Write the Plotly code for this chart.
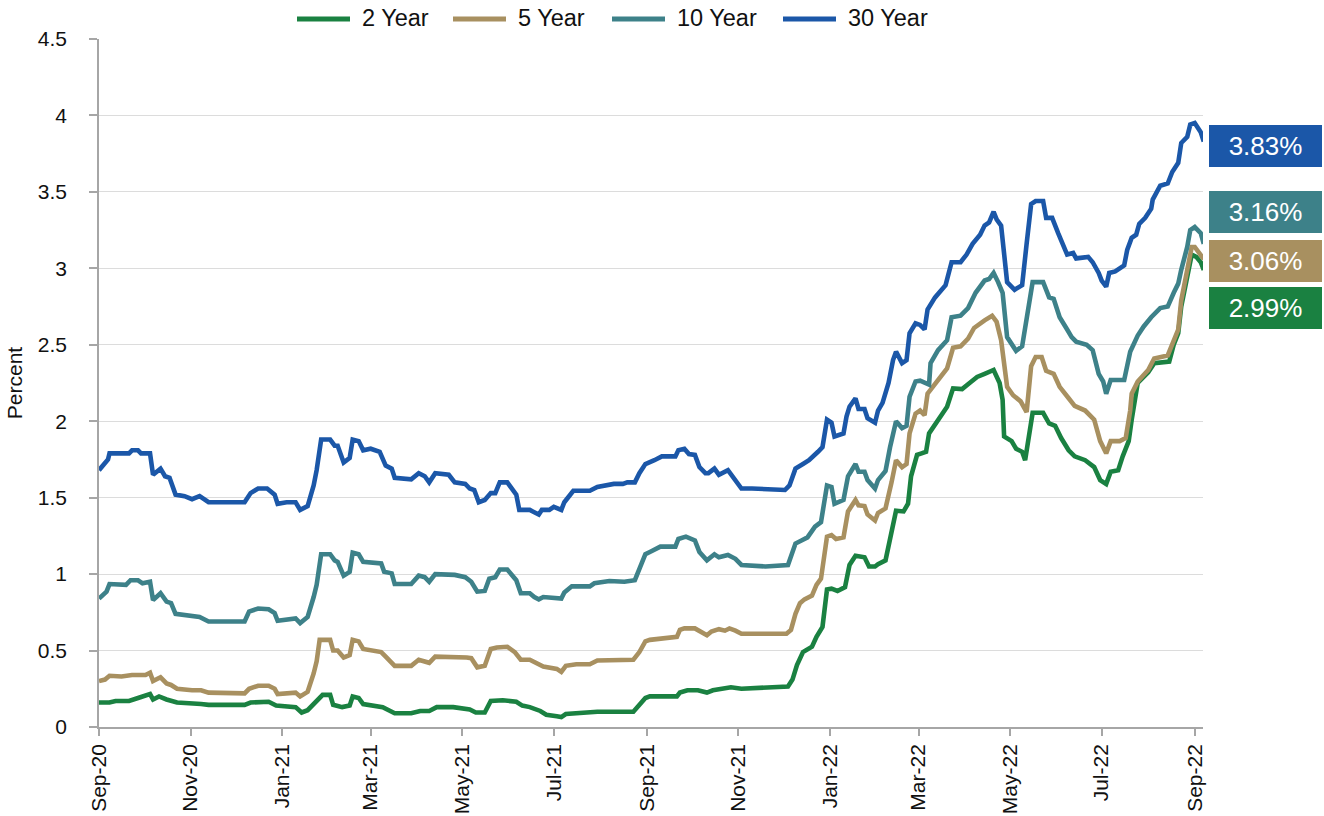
import pandas as pd
import plotly.graph_objects as go

START = "2020-09-01"
END = "2022-09-06 12:00"

# ---- data: day offsets from START and yields (%) ----
days_30y = [0, 6, 7, 20, 22, 26, 28, 34, 36, 41, 44, 47, 51, 57, 62, 67, 73, 97, 101, 106, 112, 117, 119, 125, 131, 134, 139, 143, 145, 148, 154, 157, 159, 163, 167, 169, 173, 176, 181, 187, 191, 195, 197, 208, 213, 217, 220, 224, 233, 237, 244, 247, 250, 253, 257, 261, 264, 267, 272, 275, 278, 280, 287, 289, 293, 295, 300, 303, 308, 310, 316, 327, 332, 343, 349, 352, 357, 360, 364, 370, 375, 384, 386, 390, 393, 397, 400, 404, 406, 410, 413, 419, 424, 428, 435, 457, 460, 464, 469, 473, 479, 482, 485, 488, 490, 496, 498, 500, 504, 506, 510, 512, 517, 519, 522, 526, 529, 531, 535, 538, 540, 544, 547, 550, 552, 557, 564, 568, 574, 578, 582, 587, 590, 593, 596, 598, 601, 605, 610, 615, 618, 621, 624, 629, 631, 635, 639, 643, 645, 649, 651, 659, 662, 666, 668, 671, 673, 677, 680, 683, 685, 688, 691, 693, 697, 701, 702, 707, 712, 715, 719, 721, 725, 727, 730, 734, 736]
yld_30y = [1.68, 1.75, 1.79, 1.79, 1.81, 1.81, 1.79, 1.79, 1.65, 1.69, 1.64, 1.63, 1.52, 1.51, 1.49, 1.51, 1.47, 1.47, 1.53, 1.56, 1.56, 1.52, 1.46, 1.47, 1.47, 1.42, 1.445, 1.58, 1.68, 1.88, 1.88, 1.84, 1.84, 1.73, 1.76, 1.88, 1.87, 1.81, 1.82, 1.80, 1.71, 1.69, 1.63, 1.62, 1.66, 1.64, 1.60, 1.66, 1.65, 1.60, 1.59, 1.56, 1.55, 1.47, 1.485, 1.53, 1.53, 1.60, 1.60, 1.56, 1.52, 1.42, 1.42, 1.41, 1.39, 1.42, 1.42, 1.44, 1.42, 1.47, 1.545, 1.545, 1.57, 1.59, 1.59, 1.60, 1.60, 1.66, 1.72, 1.745, 1.77, 1.77, 1.81, 1.82, 1.785, 1.78, 1.70, 1.66, 1.66, 1.69, 1.65, 1.68, 1.615, 1.56, 1.56, 1.55, 1.58, 1.69, 1.72, 1.745, 1.80, 1.83, 2.01, 1.99, 1.90, 1.92, 2.03, 2.095, 2.15, 2.08, 2.08, 2.02, 1.99, 2.07, 2.12, 2.25, 2.40, 2.455, 2.38, 2.40, 2.575, 2.64, 2.63, 2.60, 2.73, 2.81, 2.89, 3.04, 3.04, 3.09, 3.16, 3.22, 3.28, 3.30, 3.37, 3.32, 3.28, 2.91, 2.86, 2.89, 3.16, 3.42, 3.44, 3.44, 3.33, 3.33, 3.23, 3.14, 3.09, 3.10, 3.065, 3.075, 3.04, 2.97, 2.92, 2.88, 2.97, 2.98, 3.00, 3.02, 3.12, 3.20, 3.22, 3.29, 3.33, 3.39, 3.45, 3.54, 3.555, 3.63, 3.69, 3.82, 3.86, 3.94, 3.95, 3.89, 3.83]

days_10y = [0, 5, 7, 15, 18, 21, 26, 29, 34, 36, 41, 45, 48, 51, 57, 64, 67, 73, 97, 100, 106, 113, 117, 119, 131, 134, 139, 143, 145, 148, 154, 157, 159, 163, 167, 169, 173, 176, 188, 190, 195, 197, 208, 213, 217, 220, 224, 237, 244, 248, 252, 257, 260, 264, 267, 272, 275, 278, 281, 287, 290, 293, 296, 308, 310, 315, 327, 330, 340, 350, 357, 360, 364, 367, 374, 384, 386, 391, 397, 400, 405, 410, 413, 419, 424, 428, 444, 459, 464, 468, 472, 477, 481, 485, 488, 490, 496, 499, 504, 506, 510, 512, 517, 519, 524, 527, 531, 535, 538, 540, 544, 547, 550, 553, 554, 559, 565, 568, 574, 579, 584, 590, 593, 596, 599, 602, 605, 608, 611, 615, 619, 622, 629, 633, 636, 640, 645, 648, 651, 658, 662, 666, 669, 671, 674, 683, 687, 692, 696, 701, 707, 712, 716, 719, 721, 725, 727, 730, 734, 736]
yld_10y = [0.84, 0.885, 0.935, 0.93, 0.93, 0.96, 0.96, 0.94, 0.95, 0.83, 0.875, 0.82, 0.81, 0.74, 0.73, 0.72, 0.72, 0.69, 0.69, 0.755, 0.775, 0.77, 0.745, 0.695, 0.71, 0.68, 0.72, 0.85, 0.93, 1.13, 1.13, 1.09, 1.08, 0.99, 1.015, 1.14, 1.13, 1.08, 1.07, 1.015, 1.005, 0.935, 0.935, 0.99, 0.98, 0.95, 1.00, 0.995, 0.98, 0.95, 0.885, 0.89, 0.97, 0.98, 1.03, 1.03, 0.995, 0.96, 0.875, 0.875, 0.85, 0.835, 0.85, 0.84, 0.88, 0.92, 0.92, 0.94, 0.955, 0.95, 0.96, 1.04, 1.13, 1.145, 1.18, 1.18, 1.23, 1.245, 1.22, 1.145, 1.09, 1.13, 1.11, 1.125, 1.10, 1.06, 1.05, 1.06, 1.20, 1.22, 1.24, 1.31, 1.34, 1.58, 1.57, 1.46, 1.485, 1.64, 1.72, 1.67, 1.67, 1.615, 1.56, 1.615, 1.675, 1.83, 2.00, 1.955, 1.97, 2.16, 2.26, 2.265, 2.25, 2.24, 2.38, 2.465, 2.53, 2.68, 2.69, 2.74, 2.84, 2.92, 2.93, 2.97, 2.91, 2.84, 2.55, 2.51, 2.46, 2.49, 2.73, 2.91, 2.91, 2.81, 2.80, 2.68, 2.60, 2.55, 2.52, 2.50, 2.465, 2.31, 2.26, 2.18, 2.27, 2.27, 2.455, 2.56, 2.62, 2.68, 2.74, 2.75, 2.84, 2.90, 2.99, 3.14, 3.25, 3.27, 3.23, 3.16]

days_5y = [0, 4, 7, 15, 22, 31, 34, 36, 41, 45, 48, 52, 62, 68, 73, 97, 100, 106, 113, 117, 119, 131, 134, 139, 143, 145, 147, 154, 156, 159, 163, 167, 169, 173, 176, 188, 191, 197, 208, 213, 220, 224, 245, 248, 252, 257, 261, 265, 272, 277, 281, 287, 296, 305, 308, 311, 318, 327, 332, 356, 360, 364, 367, 375, 385, 387, 390, 397, 401, 405, 408, 413, 417, 420, 424, 428, 458, 461, 464, 467, 470, 475, 478, 481, 485, 488, 491, 496, 499, 504, 506, 510, 512, 517, 519, 524, 528, 531, 535, 538, 540, 544, 547, 550, 552, 559, 565, 569, 574, 579, 583, 590, 595, 598, 601, 605, 609, 614, 618, 621, 624, 628, 631, 636, 640, 646, 650, 657, 663, 667, 671, 674, 680, 684, 687, 688, 692, 699, 703, 712, 715, 719, 721, 725, 728, 730, 734, 736]
yld_5y = [0.30, 0.31, 0.335, 0.33, 0.34, 0.34, 0.355, 0.30, 0.325, 0.285, 0.275, 0.25, 0.24, 0.24, 0.225, 0.22, 0.25, 0.27, 0.27, 0.25, 0.215, 0.225, 0.20, 0.23, 0.35, 0.43, 0.57, 0.57, 0.50, 0.50, 0.455, 0.47, 0.57, 0.56, 0.51, 0.49, 0.46, 0.40, 0.40, 0.44, 0.42, 0.46, 0.455, 0.45, 0.39, 0.40, 0.51, 0.52, 0.525, 0.49, 0.44, 0.44, 0.395, 0.38, 0.36, 0.40, 0.41, 0.41, 0.435, 0.44, 0.49, 0.56, 0.57, 0.58, 0.59, 0.635, 0.645, 0.645, 0.62, 0.60, 0.625, 0.64, 0.63, 0.645, 0.63, 0.61, 0.61, 0.635, 0.74, 0.81, 0.835, 0.86, 0.93, 0.97, 1.245, 1.255, 1.23, 1.24, 1.41, 1.485, 1.45, 1.445, 1.39, 1.35, 1.40, 1.43, 1.60, 1.745, 1.70, 1.72, 1.92, 2.05, 2.07, 2.04, 2.18, 2.27, 2.345, 2.48, 2.49, 2.54, 2.61, 2.66, 2.69, 2.65, 2.53, 2.225, 2.17, 2.13, 2.06, 2.36, 2.42, 2.42, 2.33, 2.31, 2.225, 2.15, 2.10, 2.07, 2.01, 1.87, 1.79, 1.87, 1.87, 1.89, 2.07, 2.18, 2.26, 2.335, 2.41, 2.43, 2.50, 2.60, 2.79, 3.01, 3.14, 3.14, 3.09, 3.06]

days_2y = [0, 7, 11, 20, 26, 34, 36, 40, 45, 52, 68, 73, 97, 101, 113, 118, 131, 135, 139, 144, 149, 154, 156, 162, 167, 169, 173, 176, 181, 189, 197, 208, 214, 220, 225, 236, 247, 251, 257, 261, 269, 278, 282, 287, 294, 298, 305, 308, 311, 318, 327, 332, 356, 360, 364, 367, 385, 387, 392, 399, 405, 409, 415, 421, 428, 448, 459, 462, 465, 469, 475, 478, 482, 485, 488, 492, 497, 500, 504, 510, 513, 517, 519, 524, 528, 531, 536, 539, 541, 545, 548, 551, 553, 559, 565, 569, 575, 580, 585, 590, 596, 600, 602, 603, 608, 611, 615, 617, 620, 622, 629, 633, 637, 641, 646, 650, 657, 663, 667, 671, 674, 679, 682, 686, 688, 692, 699, 703, 713, 716, 719, 721, 725, 728, 731, 734, 736]
yld_2y = [0.16, 0.16, 0.17, 0.17, 0.19, 0.215, 0.18, 0.20, 0.18, 0.16, 0.15, 0.145, 0.145, 0.16, 0.165, 0.14, 0.13, 0.095, 0.11, 0.155, 0.21, 0.21, 0.145, 0.13, 0.14, 0.20, 0.19, 0.15, 0.145, 0.13, 0.09, 0.09, 0.105, 0.105, 0.13, 0.13, 0.115, 0.095, 0.095, 0.17, 0.175, 0.165, 0.14, 0.13, 0.105, 0.08, 0.07, 0.065, 0.085, 0.09, 0.09, 0.10, 0.10, 0.145, 0.19, 0.20, 0.20, 0.225, 0.24, 0.24, 0.225, 0.24, 0.25, 0.26, 0.25, 0.26, 0.265, 0.31, 0.405, 0.49, 0.525, 0.59, 0.655, 0.90, 0.905, 0.89, 0.915, 1.06, 1.12, 1.11, 1.05, 1.05, 1.065, 1.09, 1.265, 1.415, 1.41, 1.46, 1.64, 1.78, 1.79, 1.80, 1.92, 2.01, 2.095, 2.215, 2.21, 2.25, 2.29, 2.31, 2.335, 2.25, 2.14, 1.90, 1.87, 1.82, 1.80, 1.745, 1.92, 2.055, 2.055, 1.985, 1.97, 1.89, 1.81, 1.77, 1.745, 1.70, 1.615, 1.59, 1.67, 1.68, 1.77, 1.87, 2.01, 2.25, 2.32, 2.38, 2.39, 2.50, 2.575, 2.75, 2.945, 3.09, 3.075, 3.04, 2.99]

series_names = ["2 Year", "5 Year", "10 Year", "30 Year"]
series_days = [days_2y, days_5y, days_10y, days_30y]
series_vals = [yld_2y, yld_5y, yld_10y, yld_30y]
colors = ["#1A8141", "#A89060", "#3D8189", "#1B57A8"]

# value-label box centres (in percent units on the y axis)
label_y = [2.74, 3.05, 3.37, 3.80]

FONT = "Liberation Sans, Arial, Helvetica, sans-serif"

# plot-area geometry in pixels
W, H = 1324, 816
L, R, T, B = 99, 1203, 39, 727


def px_x(px):
    return (px - L) / (R - L)


def px_y(py):
    return (B - py) / (B - T)


fig = go.Figure()
start = pd.Timestamp(START)
for name, d, v, c in zip(series_names, series_days, series_vals, colors):
    x = start + pd.to_timedelta(d, unit="D")
    fig.add_trace(go.Scatter(x=x, y=v, mode="lines", name=name,
                             line=dict(color=c, width=4.6), showlegend=False))

# right-hand value boxes
for name, v, c, ly in zip(series_names, series_vals, colors, label_y):
    fig.add_annotation(x=px_x(1265), xref="paper", y=ly, yref="y",
                       text=f"{v[-1]:.2f}%", showarrow=False,
                       xanchor="center", yanchor="middle",
                       width=109, height=38, borderpad=2, borderwidth=0,
                       bgcolor=c, font=dict(family=FONT, size=26, color="white"))

# legend drawn at the top (line sample + label)
legend_line_x = [297, 453, 612, 783]
legend_y = 19
for name, c, lx in zip(series_names, colors, legend_line_x):
    fig.add_shape(type="line", xref="paper", yref="paper",
                  x0=px_x(lx), x1=px_x(lx + 53), y0=px_y(legend_y), y1=px_y(legend_y),
                  line=dict(color=c, width=5))
    fig.add_annotation(x=px_x(lx + 63), xref="paper", y=px_y(legend_y - 1), yref="paper",
                       text=name, showarrow=False, xanchor="left", yanchor="middle",
                       font=dict(family=FONT, size=23.5, color="#111111"))

fig.update_layout(
    width=W, height=H,
    margin=dict(l=L, r=W - R, t=T, b=H - B, autoexpand=False),
    paper_bgcolor="white", plot_bgcolor="white",
    font=dict(family=FONT, size=21, color="#111111"),
    showlegend=False,
)

fig.update_xaxes(
    type="date", range=[START, END],
    tick0=START, dtick="M2", tickformat="%b-%y", tickangle=-90,
    ticks="outside", ticklen=7, tickwidth=1.5, tickcolor="#A6A6A6",
    showline=True, linecolor="#A6A6A6", linewidth=1.5,
    showgrid=False, zeroline=False,
    tickfont=dict(family=FONT, size=21, color="#111111"),
)
fig.update_yaxes(
    range=[0, 4.5], dtick=0.5, tick0=0,
    ticks="outside", ticklen=8, tickwidth=1.5, tickcolor="#A6A6A6",
    showline=True, linecolor="#A6A6A6", linewidth=1.5,
    showgrid=True, gridcolor="#DCDCDC", gridwidth=1.2, zeroline=False,
    tickfont=dict(family=FONT, size=21, color="#111111"),
    ticklabelstandoff=18,
    title=dict(text="Percent", font=dict(family=FONT, size=21, color="#111111"), standoff=9),
)

fig.write_html("out.html")
